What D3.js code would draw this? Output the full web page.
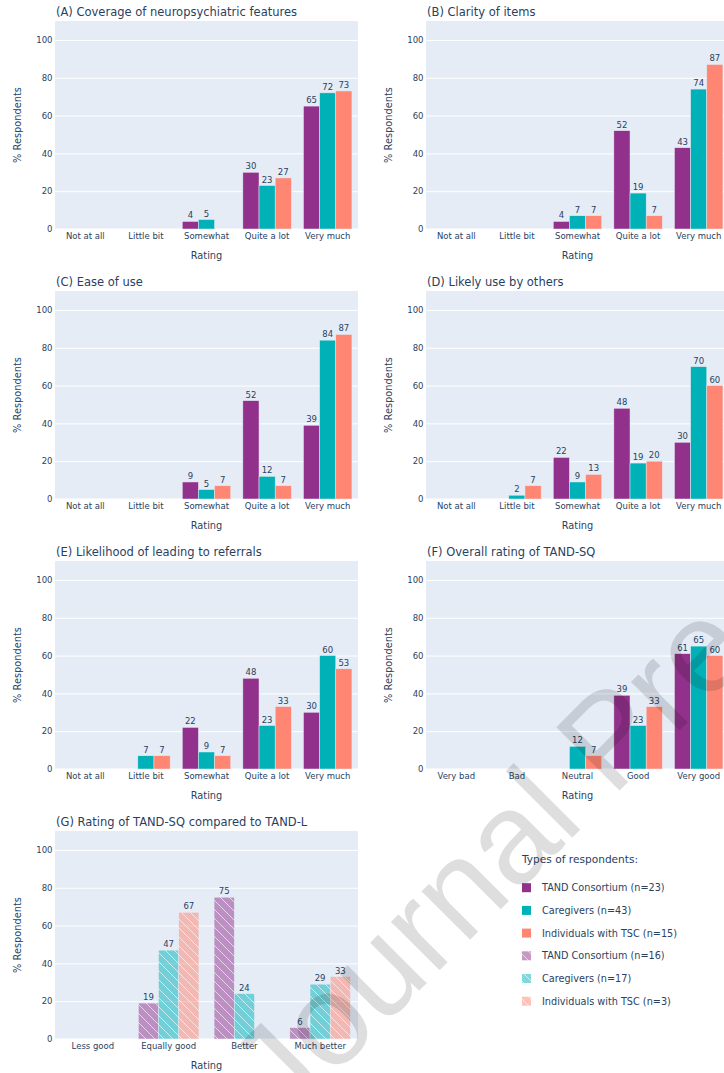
<!DOCTYPE html>
<html>
<head>
<meta charset="utf-8">
<script src="https://cdn.jsdelivr.net/npm/d3@7"></script>
<style>
  html, body { margin: 0; padding: 0; background: #fff; }
  svg { display: block; font-family: "DejaVu Sans", Verdana, sans-serif; }
</style>
</head>
<body>
<svg id="chart" width="724" height="1073"></svg>
<script>
// ---- data -------------------------------------------------------------
const seriesNames = ["TAND Consortium (n=23)", "Caregivers (n=43)", "Individuals with TSC (n=15)"];
const comparisonNames = ["TAND Consortium (n=16)", "Caregivers (n=17)", "Individuals with TSC (n=3)"];
const seriesColors = ["#92318B", "#00B1B8", "#FF8672"];

const amountCategories = ["Not at all", "Little bit", "Somewhat", "Quite a lot", "Very much"];
const qualityCategories = ["Very bad", "Bad", "Neutral", "Good", "Very good"];
const comparisonCategories = ["Less good", "Equally good", "Better", "Much better"];
const yTicks = [0, 20, 40, 60, 80, 100];

// each array: [TAND Consortium, Caregivers, Individuals with TSC], one value per category
const coverage = [[null, null, 4, 30, 65], [null, null, 5, 23, 72], [null, null, null, 27, 73]];
const clarity = [[null, null, 4, 52, 43], [null, null, 7, 19, 74], [null, null, 7, 7, 87]];
const easeOfUse = [[null, null, 9, 52, 39], [null, null, 5, 12, 84], [null, null, 7, 7, 87]];
const useByOthers = [[null, null, 22, 48, 30], [null, 2, 9, 19, 70], [null, 7, 13, 20, 60]];
const referrals = [[null, null, 22, 48, 30], [null, 7, 9, 23, 60], [null, 7, 7, 33, 53]];
const overall = [[null, null, null, 39, 61], [null, null, 12, 23, 65], [null, null, 7, 33, 60]];
const comparison = [[null, 19, 75, 6], [null, 47, 24, 29], [null, 67, null, 33]];

const panels = [
  { title: "(A) Coverage of neuropsychiatric features", cats: amountCategories, values: coverage, hatched: false },
  { title: "(B) Clarity of items", cats: amountCategories, values: clarity, hatched: false },
  { title: "(C) Ease of use", cats: amountCategories, values: easeOfUse, hatched: false },
  { title: "(D) Likely use by others", cats: amountCategories, values: useByOthers, hatched: false },
  { title: "(E) Likelihood of leading to referrals", cats: amountCategories, values: referrals, hatched: false },
  { title: "(F) Overall rating of TAND-SQ", cats: qualityCategories, values: overall, hatched: false },
  { title: "(G) Rating of TAND-SQ compared to TAND-L", cats: comparisonCategories, values: comparison, hatched: true }
];

// ---- layout -----------------------------------------------------------
const fontFamily = "DejaVu Sans, Verdana, sans-serif";
const textColor = "#2a3f5f";
const plotBg = "#E5ECF6";
const colX = [55, 426];
const plotW = 303;
const rowTop0 = 21, rowStep = 270, plotH = 208;

const svg = d3.select("#chart");
const defs = svg.append("defs");

// diagonal hatch used by the comparison bars
seriesColors.forEach((c, i) => {
  const p = defs.append("pattern")
    .attr("id", "hatch" + i)
    .attr("patternUnits", "userSpaceOnUse")
    .attr("width", 9).attr("height", 9);
  p.append("rect").attr("width", 9).attr("height", 9).attr("fill", c).attr("opacity", 0.5);
  p.append("path")
    .attr("d", "M-1,-1 L10,10 M-1,8 L1,10 M8,-1 L10,1")
    .attr("stroke", "#fff").attr("stroke-opacity", 0.7).attr("stroke-width", 0.9);
});

const y = d3.scaleLinear().domain([0, 110]);

panels.forEach((panel, pi) => {
  const col = pi % 2, row = Math.floor(pi / 2);
  const left = colX[col], top = rowTop0 + row * rowStep;
  const g = svg.append("g").attr("transform", `translate(${left},${top})`);

  y.range([plotH, 0]);
  const x = d3.scaleBand().domain(panel.cats).range([0, plotW]).paddingInner(0.2).paddingOuter(0.1);
  const xs = d3.scaleBand().domain(d3.range(3)).range([0, x.bandwidth()]);

  g.append("rect").attr("width", plotW).attr("height", plotH).attr("fill", plotBg);

  // y axis with gridlines
  const yAxis = g.append("g").call(d3.axisLeft(y).tickValues(yTicks).tickSize(-plotW).tickPadding(2.5))
    .attr("font-family", fontFamily).attr("font-size", 8.5);
  yAxis.select(".domain").remove();
  yAxis.selectAll(".tick line").attr("stroke", "#fff").attr("stroke-width", d => d === 0 ? 2 : 1);
  yAxis.selectAll(".tick text").attr("fill", textColor);

  // x axis
  const xAxis = g.append("g").attr("transform", `translate(0,${plotH})`)
    .call(d3.axisBottom(x).tickSize(0).tickPadding(4))
    .attr("font-family", fontFamily).attr("font-size", 8.5);
  xAxis.select(".domain").remove();
  xAxis.selectAll(".tick text").attr("fill", textColor);

  // bars
  panel.values.forEach((vals, si) => {
    const fill = panel.hatched ? `url(#hatch${si})` : seriesColors[si];
    const sg = g.append("g");
    const data = vals.map((v, ci) => ({ cat: panel.cats[ci], v })).filter(d => d.v !== null);
    sg.selectAll("rect").data(data).join("rect")
      .attr("x", d => x(d.cat) + xs(si))
      .attr("width", xs.bandwidth())
      .attr("y", d => y(d.v))
      .attr("height", d => plotH - y(d.v))
      .attr("fill", fill)
      .attr("stroke", plotBg).attr("stroke-width", 0.5);
    sg.selectAll("text").data(data).join("text")
      .attr("x", d => x(d.cat) + xs(si) + xs.bandwidth() / 2)
      .attr("y", d => y(d.v) - 3)
      .attr("text-anchor", "middle")
      .attr("font-size", 8.5)
      .attr("fill", textColor)
      .text(d => d.v);
  });

  // titles
  g.append("text").attr("x", 1).attr("y", -5)
    .attr("font-size", 11.5).attr("fill", textColor).text(panel.title);
  g.append("text").attr("x", plotW / 2).attr("y", plotH + 30)
    .attr("text-anchor", "middle").attr("font-size", 9.8).attr("fill", textColor).text("Rating");
  g.append("text")
    .attr("transform", `translate(-34,${plotH / 2}) rotate(-90)`)
    .attr("text-anchor", "middle").attr("font-size", 9.8).attr("fill", textColor).text("% Respondents");
});

// ---- legend -----------------------------------------------------------
const legend = svg.append("g").attr("transform", "translate(522,0)");
legend.append("text").attr("x", 0).attr("y", 863)
  .attr("font-size", 10.6).attr("fill", textColor).text("Types of respondents:");
const legendItems = seriesNames.map((n, i) => ({ name: n, fill: seriesColors[i] }))
  .concat(comparisonNames.map((n, i) => ({ name: n, fill: `url(#hatch${i})` })));
legendItems.forEach((d, i) => {
  const cy = 887.7 + i * 22.7;
  legend.append("rect").attr("x", 0).attr("y", cy - 4.5).attr("width", 9).attr("height", 9).attr("fill", d.fill);
  legend.append("text").attr("x", 20).attr("y", cy + 3.4)
    .attr("font-size", 9.7).attr("fill", textColor).text(d.name);
});

// ---- watermark --------------------------------------------------------
svg.append("text")
  .attr("transform", "translate(285,1125) rotate(-45)")
  .attr("font-family", "Liberation Sans, Arial, sans-serif")
  .attr("font-size", 130)
  .attr("fill", "#000").attr("fill-opacity", 0.13)
  .text("Journal Pre");
</script>
</body>
</html>
